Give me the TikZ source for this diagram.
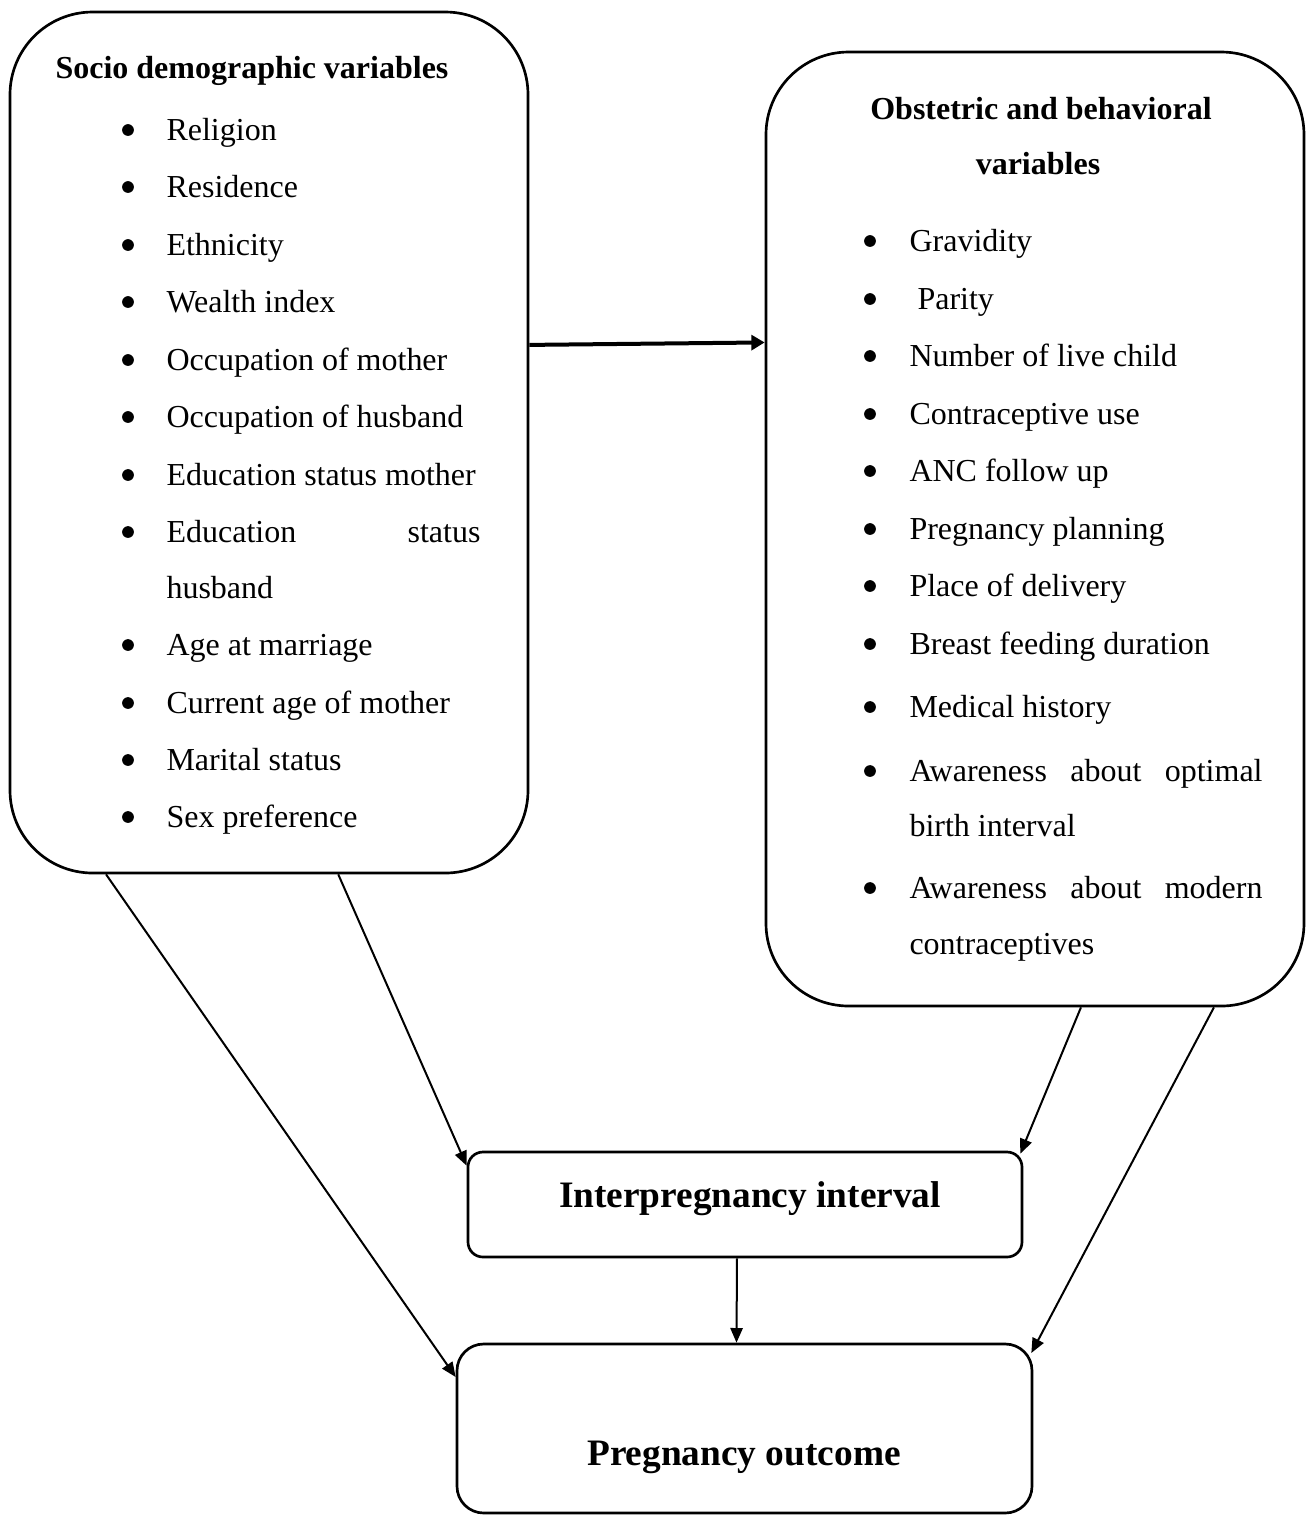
\documentclass[tikz,border=0pt]{standalone}
\usepackage{fontspec}
\setmainfont{Liberation Serif}
\usetikzlibrary{arrows.meta,calc,fit}

\begin{document}
\begin{tikzpicture}
[x=0.375pt, y=-0.375pt,
 bigbox/.style={draw, line width=1pt, rounded corners=31pt, inner sep=0pt},
 smallbox/.style={draw, line width=1pt, inner sep=0pt},
 item/.style={anchor=base west, inner sep=0pt, font=\fontsize{12}{14}\selectfont},
 itemdot/.style={circle, fill, inner sep=0pt, minimum size=4.4pt},
 headtext/.style={inner sep=0pt, font=\fontsize{12}{14}\selectfont\bfseries},
 title/.style={anchor=base, inner sep=0pt, font=\fontsize{14}{17}\selectfont\bfseries},
 arr/.style={-{Triangle[length=5.5pt,width=4.6pt]}, line width=0.75pt}]
\useasboundingbox (0,0) rectangle (1307,1516);
\node [bigbox, fit={(10,12) (528,873)}] (socio) {};
\node [bigbox, fit={(766,52) (1304,1006)}] (obst) {};
\node [smallbox, rounded corners=5.6pt, fit={(468,1152) (1022,1257)}] (interval) {};
\node [smallbox, rounded corners=10pt, fit={(457,1344) (1032,1513)}] (outcome) {};
\node [headtext, anchor=base west] (sociohead) at (55,78) {Socio demographic variables};
\foreach \yy/\txt [count=\i] in {140/Religion, 197/Residence, 255/Ethnicity, 312/Wealth index, 370/Occupation of mother, 427/Occupation of husband, 485/Education status mother, 542/\hbox to 117.75pt{Education\hfill status}, 655/Age at marriage, 713/Current age of mother, 770/Marital status, 827/Sex preference}
{
\node [itemdot] (sociodot\i) at (128,\yy-10) {};
\node [item] (socioitem\i) at (166,\yy) {\txt};
}
\node [item] (socioitem8b) at (166,598) {husband};
\node [headtext, anchor=base] (obsthead) at (1041,119) {Obstetric and behavioral};
\node [headtext, anchor=base] (obsthead2) at (1038,174) {variables};
\foreach \yy/\txt [count=\i] in {251/Gravidity, 309/\ Parity, 366/Number of live child, 424/Contraceptive use, 481/ANC follow up, 539/Pregnancy planning, 596/Place of delivery, 654/Breast feeding duration, 717/Medical history, 781/\hbox to 132.4pt{Awareness\hfill about\hfill optimal}, 898/\hbox to 132.4pt{Awareness\hfill about\hfill modern}}
{
\node [itemdot] (obstdot\i) at (870,\yy-10) {};
\node [item] (obstitem\i) at (909,\yy) {\txt};
}
\node [item] (obstitem10b) at (909,836) {birth interval};
\node [item] (obstitem11b) at (909,954) {contraceptives};
\node [title] (intervaltext) at (750,1207) {Interpregnancy interval};
\node [title] (outcometext) at (744,1465) {Pregnancy outcome};
\draw [arr, line width=1.5pt, -{Triangle[length=5pt,width=5.6pt]}] ($(socio.north east)!0.387!(socio.south east)$) -- ($(obst.north west)!0.305!(obst.south west)$);
\draw [arr] ($(socio.south west)!0.187!(socio.south east)$) -- ($(outcome.north west)!0.2!(outcome.south west)$);
\draw [arr] ($(socio.south west)!0.633!(socio.south east)$) -- ($(interval.north west)!0.14!(interval.south west)$);
\draw [arr] ($(obst.south west)!0.585!(obst.south east)$) -- ($(interval.north east)+(-3,3)$);
\draw [arr] ($(obst.south west)!0.831!(obst.south east)$) -- ($(outcome.north east)!0.06!(outcome.south east)+(-2,0)$);
\draw [arr] ($(interval.south)+(-8,0)$) -- ($(outcome.north)+(-8,0)$);
\end{tikzpicture}
\end{document}
